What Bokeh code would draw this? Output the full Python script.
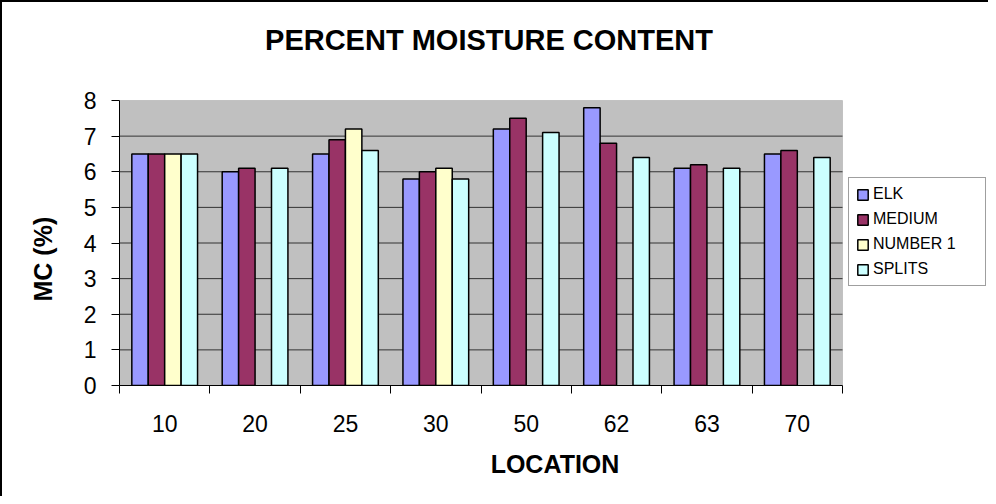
import numpy as np
from bokeh.plotting import figure
from bokeh.models import (ColumnDataSource, FixedTicker, Legend, LegendItem,
                          Range1d, BoxAnnotation, Label, Title)
from bokeh.transform import dodge
from bokeh.embed import file_html
from bokeh.resources import INLINE

NaN = float("nan")

locations = ["10", "20", "25", "30", "50", "62", "63", "70"]
series_names = ["ELK", "MEDIUM", "NUMBER 1", "SPLITS"]
elk = [6.5, 6.0, 6.5, 5.8, 7.2, 7.8, 6.1, 6.5]
medium = [6.5, 6.1, 6.9, 6.0, 7.5, 6.8, 6.2, 6.6]
number1 = [6.5, NaN, 7.2, 6.1, NaN, NaN, NaN, NaN]
splits = [6.5, 6.1, 6.6, 5.8, 7.1, 6.4, 6.1, 6.4]
colors = ["#9999FF", "#993366", "#FFFFCC", "#CCFFFF"]
y_ticks = [0, 1, 2, 3, 4, 5, 6, 7, 8]
title_text = "PERCENT MOISTURE CONTENT"
x_title = "LOCATION"
y_title = "MC (%)"

FONT = "Liberation Sans"

# layout (pixels)
FIG_W, FIG_H = 988, 496
LEFT, RIGHT, TOP, BOTTOM = 117, 0, 0, 113
FRAME_W = FIG_W - LEFT - RIGHT
FRAME_H = FIG_H - TOP - BOTTOM
PLOT_W, PLOT_H = 723, 285  # size of the grey plot area

n = len(locations)
group_pos = np.arange(n) + 0.5
source = ColumnDataSource(dict(x=group_pos, elk=elk, medium=medium,
                               number1=number1, splits=splits))

p = figure(width=FIG_W, height=FIG_H, output_backend="svg", toolbar_location=None,
           x_range=Range1d(0, n * FRAME_W / PLOT_W),
           y_range=Range1d(y_ticks[0], y_ticks[-1] * FRAME_H / PLOT_H),
           min_border_left=LEFT, min_border_right=RIGHT,
           min_border_top=TOP, min_border_bottom=BOTTOM)
p.title = None

p.background_fill_color = "white"
p.border_fill_color = "white"
p.outline_line_color = None
p.styles = {"border-left": "2px solid black", "border-top": "2px solid black"}

# grey plot area
p.add_layout(BoxAnnotation(left=0, right=n, bottom=y_ticks[0], top=y_ticks[-1],
                           fill_color="#C0C0C0", fill_alpha=1,
                           line_color="#808080", line_width=1, level="underlay"))

# grid lines limited to the plot area
gy = y_ticks[1:-1]
p.segment(x0=[0] * len(gy), x1=[n] * len(gy), y0=gy, y1=gy,
          line_color="#333333", line_width=1)

bar_w = 1.0 / 5.5
cols = ["elk", "medium", "number1", "splits"]
renderers = []
for i, (c, col) in enumerate(zip(cols, colors)):
    off = (i - 1.5) * bar_w
    r = p.vbar(x=dodge("x", off), top=c, width=bar_w, bottom=0, source=source,
               fill_color=col, line_color="black", line_width=1.5)
    renderers.append(r)

# title
p.add_layout(Label(x=n / 2, y=y_ticks[-1], x_offset=8, y_offset=61,
                   text=title_text, text_align="center",
                   text_baseline="alphabetic", text_font=FONT,
                   text_font_size="29px", text_font_style="bold",
                   text_color="black"))

# x axis
xa = p.xaxis[0]
xa.bounds = (0, n)
xa.ticker = FixedTicker(ticks=list(group_pos), minor_ticks=list(range(n + 1)))
xa.major_label_overrides = {float(g): loc for g, loc in zip(group_pos, locations)}
xa.major_tick_in = 0
xa.major_tick_out = 0
xa.minor_tick_in = 0
xa.minor_tick_out = 8
xa.minor_tick_line_color = "black"
xa.axis_line_color = "black"
xa.major_label_text_font = FONT
xa.major_label_text_font_size = "23px"
xa.major_label_text_color = "black"
xa.major_label_standoff = 21
xa.axis_label = x_title
xa.axis_label_text_font = FONT
xa.axis_label_text_font_size = "25px"
xa.axis_label_text_font_style = "bold"
xa.axis_label_text_color = "black"
xa.axis_label_standoff = 15

# y axis
ya = p.yaxis[0]
ya.bounds = (y_ticks[0], y_ticks[-1])
ya.ticker = FixedTicker(ticks=y_ticks, minor_ticks=[])
ya.major_tick_in = 0
ya.major_tick_out = 8
ya.major_tick_line_color = "black"
ya.axis_line_color = "black"
ya.major_label_text_font = FONT
ya.major_label_text_font_size = "23px"
ya.major_label_text_color = "black"
ya.major_label_standoff = 15

# y axis title in the left panel, positioned along the plot area
p.add_layout(Title(text=y_title, align="left", offset=84, standoff=46,
                   vertical_align="middle", text_font=FONT,
                   text_font_size="25px", text_font_style="bold",
                   text_color="black"), "left")

p.xgrid.grid_line_color = None
p.ygrid.grid_line_color = None

legend = Legend(items=[LegendItem(label=s, renderers=[r])
                       for s, r in zip(series_names, renderers)],
                location=(PLOT_W + 6, 99))
legend.border_line_color = "#404040"
legend.border_line_width = 1
legend.background_fill_color = "white"
legend.background_fill_alpha = 1
legend.label_text_font = FONT
legend.label_text_font_size = "16px"
legend.label_text_color = "black"
legend.glyph_width = 13
legend.glyph_height = 13
legend.label_standoff = 4
legend.label_width = 105
legend.padding = 7
legend.spacing = 7
legend.margin = 0
p.add_layout(legend)

open("out.html", "w").write(file_html(p, INLINE))
